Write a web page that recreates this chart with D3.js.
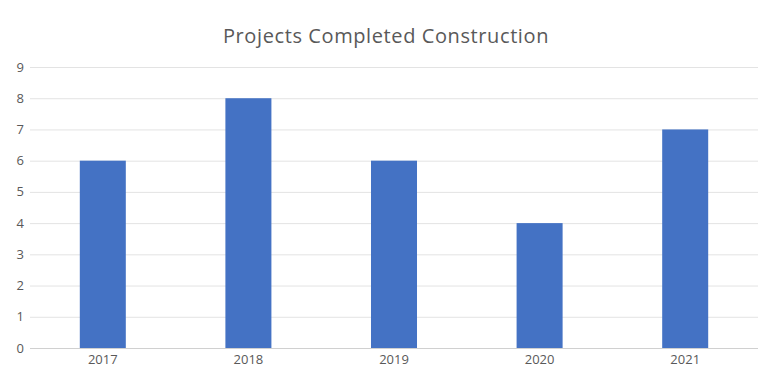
<!DOCTYPE html>
<html>
<head>
<meta charset="utf-8">
<script src="https://cdn.jsdelivr.net/npm/d3@7"></script>
<style>
  body { margin: 0; background: #fff; }
  text { font-family: "Open Sans", "DejaVu Sans", sans-serif; fill: #595959; }
</style>
</head>
<body>
<svg id="chart"></svg>
<script>
const years = ["2017", "2018", "2019", "2020", "2021"];
const projects = [6, 8, 6, 4, 7];
const yTicks = [0, 1, 2, 3, 4, 5, 6, 7, 8, 9];
const title = "Projects Completed Construction";

const width = 763, height = 378;
const margin = { left: 30, right: 5, top: 67, bottom: 30 };

const svg = d3.select("#chart")
    .attr("width", width)
    .attr("height", height);

const xScale = d3.scaleBand()
    .domain(years)
    .range([margin.left, width - margin.right])
    .paddingInner(0.684)
    .paddingOuter(0.342);

const yScale = d3.scaleLinear()
    .domain([0, 9])
    .range([height - margin.bottom, margin.top]);

// gridlines
svg.append("g")
    .selectAll("line")
    .data(yTicks)
    .join("line")
    .attr("x1", margin.left)
    .attr("x2", width - margin.right)
    .attr("y1", d => yScale(d) + 0.5)
    .attr("y2", d => yScale(d) + 0.5)
    .attr("stroke", d => d === 0 ? "#d0d0d0" : "#e3e3e3")
    .attr("stroke-width", 1);

// y labels
svg.append("g")
    .selectAll("text")
    .data(yTicks)
    .join("text")
    .attr("x", 24)
    .attr("y", d => yScale(d))
    .attr("dy", "0.35em")
    .attr("text-anchor", "end")
    .attr("font-size", 13)
    .text(d => d);

// bars
svg.append("g")
    .selectAll("rect")
    .data(years)
    .join("rect")
    .attr("x", d => xScale(d))
    .attr("width", xScale.bandwidth())
    .attr("y", (d, i) => yScale(projects[i]))
    .attr("height", (d, i) => yScale(0) - yScale(projects[i]))
    .attr("fill", "#4472C4");

// x labels
svg.append("g")
    .selectAll("text")
    .data(years)
    .join("text")
    .attr("x", d => xScale(d) + xScale.bandwidth() / 2)
    .attr("y", yScale(0) + 16)
    .attr("text-anchor", "middle")
    .attr("font-size", 13)
    .text(d => d);

// title
svg.append("text")
    .attr("x", 386)
    .attr("y", 43)
    .attr("text-anchor", "middle")
    .attr("font-size", 20)
    .attr("letter-spacing", 0.6)
    .text(title);
</script>
</body>
</html>
